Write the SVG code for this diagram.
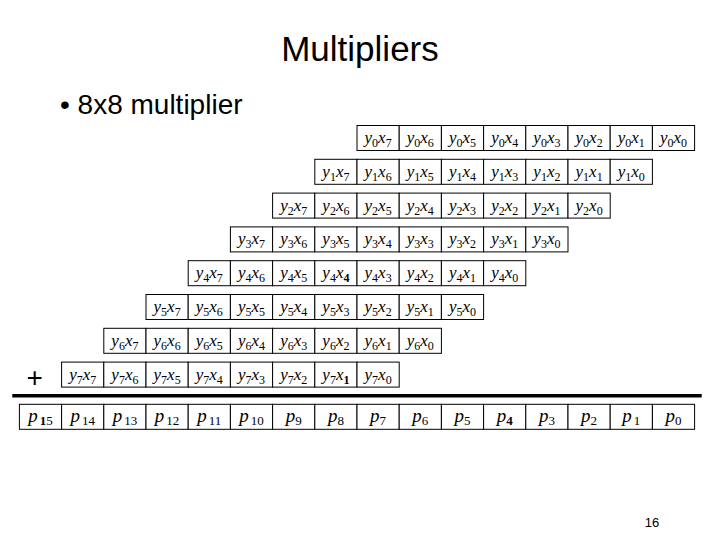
<svg xmlns="http://www.w3.org/2000/svg" width="720" height="540" viewBox="0 0 720 540">
<style>
.cell rect{fill:#fff;stroke:#000;stroke-width:1}
.cell text{font-family:"Liberation Serif","Times New Roman",serif;font-size:17px;text-anchor:middle;fill:#000}
.v{font-style:italic}
.s{font-size:12px}
.p text{font-size:19px}
.p .s{font-size:13px}
.b{font-weight:bold}
.hd{font-family:"Liberation Sans",Arial,sans-serif;fill:#000}
</style>
<rect width="720" height="540" fill="#fff"/>
<text class="hd" x="360" y="61" font-size="35" text-anchor="middle">Multipliers</text>
<text class="hd" x="60" y="114" font-size="28">• 8x8 multiplier</text>
<text class="hd" x="34.7" y="387" font-size="28" text-anchor="middle">+</text>
<text class="hd" x="652" y="527" font-size="13" text-anchor="middle">16</text>

<g id="row0">
<g id="y0x7" class="cell"><rect x="357.0" y="125.5" width="42.2" height="25"/><text x="378.1" y="143.0"><tspan class="v">y</tspan><tspan class="s" dy="4">0</tspan><tspan class="v" dy="-4">x</tspan><tspan class="s" dy="4">7</tspan></text></g>
<g id="y0x6" class="cell"><rect x="399.2" y="125.5" width="42.2" height="25"/><text x="420.3" y="143.0"><tspan class="v">y</tspan><tspan class="s" dy="4">0</tspan><tspan class="v" dy="-4">x</tspan><tspan class="s" dy="4">6</tspan></text></g>
<g id="y0x5" class="cell"><rect x="441.4" y="125.5" width="42.2" height="25"/><text x="462.5" y="143.0"><tspan class="v">y</tspan><tspan class="s" dy="4">0</tspan><tspan class="v" dy="-4">x</tspan><tspan class="s" dy="4">5</tspan></text></g>
<g id="y0x4" class="cell"><rect x="483.6" y="125.5" width="42.2" height="25"/><text x="504.7" y="143.0"><tspan class="v">y</tspan><tspan class="s" dy="4">0</tspan><tspan class="v" dy="-4">x</tspan><tspan class="s" dy="4">4</tspan></text></g>
<g id="y0x3" class="cell"><rect x="525.8" y="125.5" width="42.2" height="25"/><text x="546.9" y="143.0"><tspan class="v">y</tspan><tspan class="s" dy="4">0</tspan><tspan class="v" dy="-4">x</tspan><tspan class="s" dy="4">3</tspan></text></g>
<g id="y0x2" class="cell"><rect x="568.0" y="125.5" width="42.2" height="25"/><text x="589.1" y="143.0"><tspan class="v">y</tspan><tspan class="s" dy="4">0</tspan><tspan class="v" dy="-4">x</tspan><tspan class="s" dy="4">2</tspan></text></g>
<g id="y0x1" class="cell"><rect x="610.2" y="125.5" width="42.2" height="25"/><text x="631.3" y="143.0"><tspan class="v">y</tspan><tspan class="s" dy="4">0</tspan><tspan class="v" dy="-4">x</tspan><tspan class="s" dy="4">1</tspan></text></g>
<g id="y0x0" class="cell"><rect x="652.4" y="125.5" width="42.2" height="25" stroke-width="2"/><text x="673.5" y="143.0"><tspan class="v">y</tspan><tspan class="s" dy="4">0</tspan><tspan class="v" dy="-4">x</tspan><tspan class="s" dy="4">0</tspan></text></g>
</g>

<g id="row1">
<g id="y1x7" class="cell"><rect x="314.8" y="159.3" width="42.2" height="25"/><text x="335.9" y="176.8"><tspan class="v">y</tspan><tspan class="s" dy="4">1</tspan><tspan class="v" dy="-4">x</tspan><tspan class="s" dy="4">7</tspan></text></g>
<g id="y1x6" class="cell"><rect x="357.0" y="159.3" width="42.2" height="25"/><text x="378.1" y="176.8"><tspan class="v">y</tspan><tspan class="s" dy="4">1</tspan><tspan class="v" dy="-4">x</tspan><tspan class="s" dy="4">6</tspan></text></g>
<g id="y1x5" class="cell"><rect x="399.2" y="159.3" width="42.2" height="25"/><text x="420.3" y="176.8"><tspan class="v">y</tspan><tspan class="s" dy="4">1</tspan><tspan class="v" dy="-4">x</tspan><tspan class="s" dy="4">5</tspan></text></g>
<g id="y1x4" class="cell"><rect x="441.4" y="159.3" width="42.2" height="25"/><text x="462.5" y="176.8"><tspan class="v">y</tspan><tspan class="s" dy="4">1</tspan><tspan class="v" dy="-4">x</tspan><tspan class="s" dy="4">4</tspan></text></g>
<g id="y1x3" class="cell"><rect x="483.6" y="159.3" width="42.2" height="25"/><text x="504.7" y="176.8"><tspan class="v">y</tspan><tspan class="s" dy="4">1</tspan><tspan class="v" dy="-4">x</tspan><tspan class="s" dy="4">3</tspan></text></g>
<g id="y1x2" class="cell"><rect x="525.8" y="159.3" width="42.2" height="25"/><text x="546.9" y="176.8"><tspan class="v">y</tspan><tspan class="s" dy="4">1</tspan><tspan class="v" dy="-4">x</tspan><tspan class="s" dy="4">2</tspan></text></g>
<g id="y1x1" class="cell"><rect x="568.0" y="159.3" width="42.2" height="25"/><text x="589.1" y="176.8"><tspan class="v">y</tspan><tspan class="s" dy="4">1</tspan><tspan class="v" dy="-4">x</tspan><tspan class="s" dy="4">1</tspan></text></g>
<g id="y1x0" class="cell"><rect x="610.2" y="159.3" width="42.2" height="25" stroke-width="2"/><text x="631.3" y="176.8"><tspan class="v">y</tspan><tspan class="s" dy="4">1</tspan><tspan class="v" dy="-4">x</tspan><tspan class="s" dy="4">0</tspan></text></g>
</g>

<g id="row2">
<g id="y2x7" class="cell"><rect x="272.6" y="193.1" width="42.2" height="25"/><text x="293.7" y="210.6"><tspan class="v">y</tspan><tspan class="s" dy="4">2</tspan><tspan class="v" dy="-4">x</tspan><tspan class="s" dy="4">7</tspan></text></g>
<g id="y2x6" class="cell"><rect x="314.8" y="193.1" width="42.2" height="25"/><text x="335.9" y="210.6"><tspan class="v">y</tspan><tspan class="s" dy="4">2</tspan><tspan class="v" dy="-4">x</tspan><tspan class="s" dy="4">6</tspan></text></g>
<g id="y2x5" class="cell"><rect x="357.0" y="193.1" width="42.2" height="25"/><text x="378.1" y="210.6"><tspan class="v">y</tspan><tspan class="s" dy="4">2</tspan><tspan class="v" dy="-4">x</tspan><tspan class="s" dy="4">5</tspan></text></g>
<g id="y2x4" class="cell"><rect x="399.2" y="193.1" width="42.2" height="25"/><text x="420.3" y="210.6"><tspan class="v">y</tspan><tspan class="s" dy="4">2</tspan><tspan class="v" dy="-4">x</tspan><tspan class="s" dy="4">4</tspan></text></g>
<g id="y2x3" class="cell"><rect x="441.4" y="193.1" width="42.2" height="25"/><text x="462.5" y="210.6"><tspan class="v">y</tspan><tspan class="s" dy="4">2</tspan><tspan class="v" dy="-4">x</tspan><tspan class="s" dy="4">3</tspan></text></g>
<g id="y2x2" class="cell"><rect x="483.6" y="193.1" width="42.2" height="25"/><text x="504.7" y="210.6"><tspan class="v">y</tspan><tspan class="s" dy="4">2</tspan><tspan class="v" dy="-4">x</tspan><tspan class="s" dy="4">2</tspan></text></g>
<g id="y2x1" class="cell"><rect x="525.8" y="193.1" width="42.2" height="25"/><text x="546.9" y="210.6"><tspan class="v">y</tspan><tspan class="s" dy="4">2</tspan><tspan class="v" dy="-4">x</tspan><tspan class="s" dy="4">1</tspan></text></g>
<g id="y2x0" class="cell"><rect x="568.0" y="193.1" width="42.2" height="25"/><text x="589.1" y="210.6"><tspan class="v">y</tspan><tspan class="s" dy="4">2</tspan><tspan class="v" dy="-4">x</tspan><tspan class="s" dy="4">0</tspan></text></g>
</g>

<g id="row3">
<g id="y3x7" class="cell"><rect x="230.4" y="226.9" width="42.2" height="25"/><text x="251.5" y="244.4"><tspan class="v">y</tspan><tspan class="s" dy="4">3</tspan><tspan class="v" dy="-4">x</tspan><tspan class="s" dy="4">7</tspan></text></g>
<g id="y3x6" class="cell"><rect x="272.6" y="226.9" width="42.2" height="25"/><text x="293.7" y="244.4"><tspan class="v">y</tspan><tspan class="s" dy="4">3</tspan><tspan class="v" dy="-4">x</tspan><tspan class="s" dy="4">6</tspan></text></g>
<g id="y3x5" class="cell"><rect x="314.8" y="226.9" width="42.2" height="25"/><text x="335.9" y="244.4"><tspan class="v">y</tspan><tspan class="s" dy="4">3</tspan><tspan class="v" dy="-4">x</tspan><tspan class="s" dy="4">5</tspan></text></g>
<g id="y3x4" class="cell"><rect x="357.0" y="226.9" width="42.2" height="25"/><text x="378.1" y="244.4"><tspan class="v">y</tspan><tspan class="s" dy="4">3</tspan><tspan class="v" dy="-4">x</tspan><tspan class="s" dy="4">4</tspan></text></g>
<g id="y3x3" class="cell"><rect x="399.2" y="226.9" width="42.2" height="25"/><text x="420.3" y="244.4"><tspan class="v">y</tspan><tspan class="s" dy="4">3</tspan><tspan class="v" dy="-4">x</tspan><tspan class="s" dy="4">3</tspan></text></g>
<g id="y3x2" class="cell"><rect x="441.4" y="226.9" width="42.2" height="25"/><text x="462.5" y="244.4"><tspan class="v">y</tspan><tspan class="s" dy="4">3</tspan><tspan class="v" dy="-4">x</tspan><tspan class="s" dy="4">2</tspan></text></g>
<g id="y3x1" class="cell"><rect x="483.6" y="226.9" width="42.2" height="25"/><text x="504.7" y="244.4"><tspan class="v">y</tspan><tspan class="s" dy="4">3</tspan><tspan class="v" dy="-4">x</tspan><tspan class="s" dy="4">1</tspan></text></g>
<g id="y3x0" class="cell"><rect x="525.8" y="226.9" width="42.2" height="25"/><text x="546.9" y="244.4"><tspan class="v">y</tspan><tspan class="s" dy="4">3</tspan><tspan class="v" dy="-4">x</tspan><tspan class="s" dy="4">0</tspan></text></g>
</g>

<g id="row4">
<g id="y4x7" class="cell"><rect x="188.2" y="260.7" width="42.2" height="25"/><text x="209.3" y="278.2"><tspan class="v">y</tspan><tspan class="s" dy="4">4</tspan><tspan class="v" dy="-4">x</tspan><tspan class="s" dy="4">7</tspan></text></g>
<g id="y4x6" class="cell"><rect x="230.4" y="260.7" width="42.2" height="25"/><text x="251.5" y="278.2"><tspan class="v">y</tspan><tspan class="s" dy="4">4</tspan><tspan class="v" dy="-4">x</tspan><tspan class="s" dy="4">6</tspan></text></g>
<g id="y4x5" class="cell"><rect x="272.6" y="260.7" width="42.2" height="25"/><text x="293.7" y="278.2"><tspan class="v">y</tspan><tspan class="s" dy="4">4</tspan><tspan class="v" dy="-4">x</tspan><tspan class="s" dy="4">5</tspan></text></g>
<g id="y4x4" class="cell"><rect x="314.8" y="260.7" width="42.2" height="25"/><text x="335.9" y="278.2"><tspan class="v">y</tspan><tspan class="s" dy="4">4</tspan><tspan class="v" dy="-4">x</tspan><tspan class="s b" dy="4">4</tspan></text></g>
<g id="y4x3" class="cell"><rect x="357.0" y="260.7" width="42.2" height="25"/><text x="378.1" y="278.2"><tspan class="v">y</tspan><tspan class="s" dy="4">4</tspan><tspan class="v" dy="-4">x</tspan><tspan class="s" dy="4">3</tspan></text></g>
<g id="y4x2" class="cell"><rect x="399.2" y="260.7" width="42.2" height="25"/><text x="420.3" y="278.2"><tspan class="v">y</tspan><tspan class="s" dy="4">4</tspan><tspan class="v" dy="-4">x</tspan><tspan class="s" dy="4">2</tspan></text></g>
<g id="y4x1" class="cell"><rect x="441.4" y="260.7" width="42.2" height="25"/><text x="462.5" y="278.2"><tspan class="v">y</tspan><tspan class="s" dy="4">4</tspan><tspan class="v" dy="-4">x</tspan><tspan class="s" dy="4">1</tspan></text></g>
<g id="y4x0" class="cell"><rect x="483.6" y="260.7" width="42.2" height="25"/><text x="504.7" y="278.2"><tspan class="v">y</tspan><tspan class="s" dy="4">4</tspan><tspan class="v" dy="-4">x</tspan><tspan class="s" dy="4">0</tspan></text></g>
</g>

<g id="row5">
<g id="y5x7" class="cell"><rect x="146.0" y="294.5" width="42.2" height="25"/><text x="167.1" y="312.0"><tspan class="v">y</tspan><tspan class="s" dy="4">5</tspan><tspan class="v" dy="-4">x</tspan><tspan class="s" dy="4">7</tspan></text></g>
<g id="y5x6" class="cell"><rect x="188.2" y="294.5" width="42.2" height="25"/><text x="209.3" y="312.0"><tspan class="v">y</tspan><tspan class="s" dy="4">5</tspan><tspan class="v" dy="-4">x</tspan><tspan class="s" dy="4">6</tspan></text></g>
<g id="y5x5" class="cell"><rect x="230.4" y="294.5" width="42.2" height="25"/><text x="251.5" y="312.0"><tspan class="v">y</tspan><tspan class="s" dy="4">5</tspan><tspan class="v" dy="-4">x</tspan><tspan class="s" dy="4">5</tspan></text></g>
<g id="y5x4" class="cell"><rect x="272.6" y="294.5" width="42.2" height="25"/><text x="293.7" y="312.0"><tspan class="v">y</tspan><tspan class="s" dy="4">5</tspan><tspan class="v" dy="-4">x</tspan><tspan class="s" dy="4">4</tspan></text></g>
<g id="y5x3" class="cell"><rect x="314.8" y="294.5" width="42.2" height="25"/><text x="335.9" y="312.0"><tspan class="v">y</tspan><tspan class="s" dy="4">5</tspan><tspan class="v" dy="-4">x</tspan><tspan class="s" dy="4">3</tspan></text></g>
<g id="y5x2" class="cell"><rect x="357.0" y="294.5" width="42.2" height="25"/><text x="378.1" y="312.0"><tspan class="v">y</tspan><tspan class="s" dy="4">5</tspan><tspan class="v" dy="-4">x</tspan><tspan class="s" dy="4">2</tspan></text></g>
<g id="y5x1" class="cell"><rect x="399.2" y="294.5" width="42.2" height="25"/><text x="420.3" y="312.0"><tspan class="v">y</tspan><tspan class="s" dy="4">5</tspan><tspan class="v" dy="-4">x</tspan><tspan class="s" dy="4">1</tspan></text></g>
<g id="y5x0" class="cell"><rect x="441.4" y="294.5" width="42.2" height="25"/><text x="462.5" y="312.0"><tspan class="v">y</tspan><tspan class="s" dy="4">5</tspan><tspan class="v" dy="-4">x</tspan><tspan class="s" dy="4">0</tspan></text></g>
</g>

<g id="row6">
<g id="y6x7" class="cell"><rect x="103.8" y="328.3" width="42.2" height="25"/><text x="124.9" y="345.8"><tspan class="v">y</tspan><tspan class="s" dy="4">6</tspan><tspan class="v" dy="-4">x</tspan><tspan class="s" dy="4">7</tspan></text></g>
<g id="y6x6" class="cell"><rect x="146.0" y="328.3" width="42.2" height="25"/><text x="167.1" y="345.8"><tspan class="v">y</tspan><tspan class="s" dy="4">6</tspan><tspan class="v" dy="-4">x</tspan><tspan class="s" dy="4">6</tspan></text></g>
<g id="y6x5" class="cell"><rect x="188.2" y="328.3" width="42.2" height="25"/><text x="209.3" y="345.8"><tspan class="v">y</tspan><tspan class="s" dy="4">6</tspan><tspan class="v" dy="-4">x</tspan><tspan class="s" dy="4">5</tspan></text></g>
<g id="y6x4" class="cell"><rect x="230.4" y="328.3" width="42.2" height="25"/><text x="251.5" y="345.8"><tspan class="v">y</tspan><tspan class="s" dy="4">6</tspan><tspan class="v" dy="-4">x</tspan><tspan class="s" dy="4">4</tspan></text></g>
<g id="y6x3" class="cell"><rect x="272.6" y="328.3" width="42.2" height="25"/><text x="293.7" y="345.8"><tspan class="v">y</tspan><tspan class="s" dy="4">6</tspan><tspan class="v" dy="-4">x</tspan><tspan class="s" dy="4">3</tspan></text></g>
<g id="y6x2" class="cell"><rect x="314.8" y="328.3" width="42.2" height="25"/><text x="335.9" y="345.8"><tspan class="v">y</tspan><tspan class="s" dy="4">6</tspan><tspan class="v" dy="-4">x</tspan><tspan class="s" dy="4">2</tspan></text></g>
<g id="y6x1" class="cell"><rect x="357.0" y="328.3" width="42.2" height="25"/><text x="378.1" y="345.8"><tspan class="v">y</tspan><tspan class="s" dy="4">6</tspan><tspan class="v" dy="-4">x</tspan><tspan class="s" dy="4">1</tspan></text></g>
<g id="y6x0" class="cell"><rect x="399.2" y="328.3" width="42.2" height="25"/><text x="420.3" y="345.8"><tspan class="v">y</tspan><tspan class="s" dy="4">6</tspan><tspan class="v" dy="-4">x</tspan><tspan class="s" dy="4">0</tspan></text></g>
</g>

<g id="row7">
<g id="y7x7" class="cell"><rect x="61.6" y="362.1" width="42.2" height="25"/><text x="82.7" y="379.6"><tspan class="v">y</tspan><tspan class="s" dy="4">7</tspan><tspan class="v" dy="-4">x</tspan><tspan class="s" dy="4">7</tspan></text></g>
<g id="y7x6" class="cell"><rect x="103.8" y="362.1" width="42.2" height="25"/><text x="124.9" y="379.6"><tspan class="v">y</tspan><tspan class="s" dy="4">7</tspan><tspan class="v" dy="-4">x</tspan><tspan class="s" dy="4">6</tspan></text></g>
<g id="y7x5" class="cell"><rect x="146.0" y="362.1" width="42.2" height="25"/><text x="167.1" y="379.6"><tspan class="v">y</tspan><tspan class="s" dy="4">7</tspan><tspan class="v" dy="-4">x</tspan><tspan class="s" dy="4">5</tspan></text></g>
<g id="y7x4" class="cell"><rect x="188.2" y="362.1" width="42.2" height="25"/><text x="209.3" y="379.6"><tspan class="v">y</tspan><tspan class="s" dy="4">7</tspan><tspan class="v" dy="-4">x</tspan><tspan class="s" dy="4">4</tspan></text></g>
<g id="y7x3" class="cell"><rect x="230.4" y="362.1" width="42.2" height="25"/><text x="251.5" y="379.6"><tspan class="v">y</tspan><tspan class="s" dy="4">7</tspan><tspan class="v" dy="-4">x</tspan><tspan class="s" dy="4">3</tspan></text></g>
<g id="y7x2" class="cell"><rect x="272.6" y="362.1" width="42.2" height="25"/><text x="293.7" y="379.6"><tspan class="v">y</tspan><tspan class="s" dy="4">7</tspan><tspan class="v" dy="-4">x</tspan><tspan class="s" dy="4">2</tspan></text></g>
<g id="y7x1" class="cell"><rect x="314.8" y="362.1" width="42.2" height="25"/><text x="335.9" y="379.6"><tspan class="v">y</tspan><tspan class="s" dy="4">7</tspan><tspan class="v" dy="-4">x</tspan><tspan class="s b" dy="4">1</tspan></text></g>
<g id="y7x0" class="cell"><rect x="357.0" y="362.1" width="42.2" height="25"/><text x="378.1" y="379.6"><tspan class="v">y</tspan><tspan class="s" dy="4">7</tspan><tspan class="v" dy="-4">x</tspan><tspan class="s" dy="4">0</tspan></text></g>
</g>

<line x1="12.3" y1="395.7" x2="701.7" y2="395.7" stroke="#000" stroke-width="3.5"/>

<g id="product">
<g id="p15" class="cell p"><rect x="19.4" y="404.3" width="42.2" height="25"/><text x="40.5" y="422.3"><tspan class="v">p</tspan><tspan class="s" dy="3" dx="2"><tspan class="b">1</tspan>5</tspan></text></g>
<g id="p14" class="cell p"><rect x="61.6" y="404.3" width="42.2" height="25"/><text x="82.7" y="422.3"><tspan class="v">p</tspan><tspan class="s" dy="3" dx="2">14</tspan></text></g>
<g id="p13" class="cell p"><rect x="103.8" y="404.3" width="42.2" height="25"/><text x="124.9" y="422.3"><tspan class="v">p</tspan><tspan class="s" dy="3" dx="2">13</tspan></text></g>
<g id="p12" class="cell p"><rect x="146.0" y="404.3" width="42.2" height="25"/><text x="167.1" y="422.3"><tspan class="v">p</tspan><tspan class="s" dy="3" dx="2">12</tspan></text></g>
<g id="p11" class="cell p"><rect x="188.2" y="404.3" width="42.2" height="25"/><text x="209.3" y="422.3"><tspan class="v">p</tspan><tspan class="s" dy="3" dx="2">11</tspan></text></g>
<g id="p10" class="cell p"><rect x="230.4" y="404.3" width="42.2" height="25"/><text x="251.5" y="422.3"><tspan class="v">p</tspan><tspan class="s" dy="3" dx="2">10</tspan></text></g>
<g id="p9" class="cell p"><rect x="272.6" y="404.3" width="42.2" height="25"/><text x="293.7" y="422.3"><tspan class="v">p</tspan><tspan class="s" dy="3">9</tspan></text></g>
<g id="p8" class="cell p"><rect x="314.8" y="404.3" width="42.2" height="25"/><text x="335.9" y="422.3"><tspan class="v">p</tspan><tspan class="s" dy="3">8</tspan></text></g>
<g id="p7" class="cell p"><rect x="357.0" y="404.3" width="42.2" height="25"/><text x="378.1" y="422.3"><tspan class="v">p</tspan><tspan class="s" dy="3">7</tspan></text></g>
<g id="p6" class="cell p"><rect x="399.2" y="404.3" width="42.2" height="25"/><text x="420.3" y="422.3"><tspan class="v">p</tspan><tspan class="s" dy="3">6</tspan></text></g>
<g id="p5" class="cell p"><rect x="441.4" y="404.3" width="42.2" height="25"/><text x="462.5" y="422.3"><tspan class="v">p</tspan><tspan class="s" dy="3">5</tspan></text></g>
<g id="p4" class="cell p"><rect x="483.6" y="404.3" width="42.2" height="25"/><text x="504.7" y="422.3"><tspan class="v">p</tspan><tspan class="s b" dy="3">4</tspan></text></g>
<g id="p3" class="cell p"><rect x="525.8" y="404.3" width="42.2" height="25"/><text x="546.9" y="422.3"><tspan class="v">p</tspan><tspan class="s" dy="3">3</tspan></text></g>
<g id="p2" class="cell p"><rect x="568.0" y="404.3" width="42.2" height="25"/><text x="589.1" y="422.3"><tspan class="v">p</tspan><tspan class="s" dy="3">2</tspan></text></g>
<g id="p1" class="cell p"><rect x="610.2" y="404.3" width="42.2" height="25"/><text x="631.3" y="422.3"><tspan class="v">p</tspan><tspan class="s" dy="3" dx="2">1</tspan></text></g>
<g id="p0" class="cell p"><rect x="652.4" y="404.3" width="42.2" height="25" stroke-width="2"/><text x="673.5" y="422.3"><tspan class="v">p</tspan><tspan class="s" dy="3">0</tspan></text></g>
</g>
</svg>
